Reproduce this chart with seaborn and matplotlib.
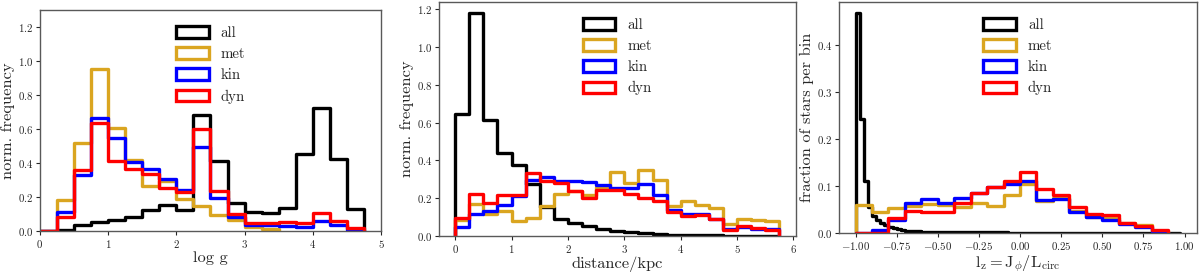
import numpy as np
import matplotlib
matplotlib.use("Agg")
import matplotlib.pyplot as plt
import seaborn as sns
from matplotlib.patches import Patch

# ---------------- data ----------------
series_names = ["all", "met", "kin", "dyn"]
series_colors = ["black", "goldenrod", "blue", "red"]

# Panel 1: log g  (bins of 0.25 starting at 0)
logg_edges_all = np.arange(0, 4.75 + 1e-9, 0.25)   # 19 bins, 0 -> 4.75
logg_edges_met = np.arange(0, 3.5 + 1e-9, 0.25)    # 14 bins, 0 -> 3.5
logg_all = [0.0, 0.006, 0.033, 0.055, 0.065, 0.082, 0.122, 0.153, 0.124, 0.683,
            0.414, 0.163, 0.114, 0.104, 0.134, 0.454, 0.723, 0.424, 0.128]
logg_met = [0.0, 0.183, 0.516, 0.954, 0.605, 0.42, 0.263, 0.292, 0.188, 0.147,
            0.094, 0.067, 0.026, 0.013]
logg_kin = [0.0, 0.114, 0.33, 0.664, 0.546, 0.403, 0.363, 0.304, 0.242, 0.497,
            0.196, 0.08, 0.033, 0.033, 0.028, 0.025, 0.06, 0.033, 0.005]
logg_dyn = [0.0, 0.084, 0.36, 0.634, 0.41, 0.362, 0.334, 0.251, 0.228, 0.601,
            0.238, 0.1, 0.045, 0.045, 0.053, 0.045, 0.105, 0.06, 0.015]

# Panel 2: distance/kpc (bins of 0.25 from 0 to 5.75)
dist_edges = np.arange(0, 5.75 + 1e-9, 0.25)
dist_all = [0.647, 1.179, 0.612, 0.44, 0.374, 0.275, 0.155, 0.09, 0.067, 0.05,
            0.035, 0.027, 0.02, 0.014, 0.01, 0.007, 0.005, 0.004, 0.003, 0.002,
            0.002, 0.001, 0.001]
dist_met = [0.083, 0.17, 0.117, 0.132, 0.078, 0.095, 0.157, 0.222, 0.236, 0.218,
            0.257, 0.338, 0.28, 0.351, 0.297, 0.161, 0.186, 0.165, 0.15, 0.063,
            0.09, 0.085, 0.079]
dist_kin = [0.045, 0.115, 0.13, 0.166, 0.21, 0.297, 0.31, 0.29, 0.29, 0.285,
            0.271, 0.254, 0.256, 0.274, 0.215, 0.135, 0.115, 0.115, 0.09, 0.037,
            0.046, 0.037, 0.035]
dist_dyn = [0.094, 0.222, 0.174, 0.215, 0.219, 0.333, 0.289, 0.28, 0.239, 0.2,
            0.245, 0.245, 0.22, 0.2, 0.186, 0.126, 0.106, 0.11, 0.09, 0.032,
            0.053, 0.044, 0.03]

# Panel 3: l_z = J_phi / L_circ
lz_edges_all = np.arange(-1.0, 0.975 + 1e-9, 0.025)   # 79 fine bins
lz_edges_sub = np.arange(-1.0, 0.9 + 1e-9, 0.1)       # 19 coarse bins
lz_all = [0.467, 0.243, 0.110, 0.055, 0.037, 0.029, 0.022, 0.017, 0.013, 0.010,
          0.008, 0.0065, 0.0055, 0.0048, 0.0042, 0.0037, 0.0033, 0.003, 0.0028, 0.0026,
          0.0025, 0.0024, 0.0023, 0.0022, 0.0021, 0.002, 0.002, 0.0019, 0.0018, 0.0018,
          0.0017, 0.0017, 0.0016, 0.0016, 0.0015, 0.0015, 0.0015, 0.0014, 0.0014, 0.0014,
          0.0014, 0.0013, 0.0013, 0.0013, 0.0012, 0.0012, 0.0012, 0.0011, 0.0011, 0.0011,
          0.001, 0.001, 0.001, 0.001, 0.0009, 0.0009, 0.0009, 0.0009, 0.0008, 0.0008,
          0.0008, 0.0008, 0.0007, 0.0007, 0.0007, 0.0007, 0.0006, 0.0006, 0.0006, 0.0006,
          0.0005, 0.0005, 0.0005, 0.0005, 0.0004, 0.0004, 0.0004, 0.0004, 0.0004]
lz_met = [0.06, 0.044, 0.054, 0.058, 0.062, 0.06, 0.055, 0.065, 0.058, 0.08,
          0.105, 0.068, 0.074, 0.047, 0.035, 0.033, 0.021, 0.018, 0.005]
lz_kin = [0.0, 0.006, 0.028, 0.065, 0.073, 0.065, 0.075, 0.085, 0.097, 0.105,
          0.11, 0.07, 0.072, 0.045, 0.035, 0.028, 0.02, 0.013, 0.003]
lz_dyn = [0.0, 0.0, 0.032, 0.048, 0.044, 0.044, 0.063, 0.085, 0.099, 0.11,
          0.13, 0.093, 0.08, 0.055, 0.04, 0.038, 0.022, 0.015, 0.007]

lz_ticks = [-1.0, -0.75, -0.5, -0.25, 0.0, 0.25, 0.5, 0.75, 1.0]

# ---------------- style ----------------
sns.set_style("ticks")
plt.rcParams["font.family"] = "serif"
plt.rcParams["font.serif"] = ["cmr10", "DejaVu Serif"]
plt.rcParams["mathtext.fontset"] = "cm"
plt.rcParams["axes.formatter.use_mathtext"] = True
plt.rcParams["axes.unicode_minus"] = True

LW = 2.4
TICK_FS = 7.8
LABEL_FS = 11.8
LEG_FS = 10.7


def step_hist(ax, edges, heights, color):
    edges = np.asarray(edges, float)
    heights = np.asarray(heights, float)
    eps = 1e-7 * (edges[-1] - edges[0])
    e = np.concatenate([[edges[0] - eps], edges, [edges[-1] + eps]])
    h = np.concatenate([[0.0], heights, [0.0]])
    centers = 0.5 * (e[:-1] + e[1:])
    sns.histplot(x=centers, weights=h, bins=e.tolist(), element="step", fill=False,
                 color=color, linewidth=LW, ax=ax)


def finish(ax, xlabel, ylabel):
    ax.set_xlabel(xlabel, fontsize=LABEL_FS, labelpad=1)
    ax.set_ylabel(ylabel, fontsize=LABEL_FS, labelpad=2)
    ax.tick_params(labelsize=TICK_FS, length=3, width=0.8, pad=2)
    for s in ax.spines.values():
        s.set_color("0.35")
        s.set_linewidth(1.0)
    handles = [Patch(facecolor="none", edgecolor=c, linewidth=LW) for c in series_colors]
    ax.legend(handles, series_names, loc="upper center", frameon=False,
              fontsize=LEG_FS, handlelength=2.2, handleheight=0.8,
              labelspacing=0.48, handletextpad=0.8, borderaxespad=0.7)


fig = plt.figure(figsize=(12, 2.75), dpi=100)

ax1 = fig.add_axes([0.0333, 0.160, 0.2842, 0.8036])
ax2 = fig.add_axes([0.3658, 0.142, 0.2972, 0.851])
ax3 = fig.add_axes([0.6994, 0.152, 0.2978, 0.841])

# Panel 1
step_hist(ax1, logg_edges_all, logg_all, "black")
step_hist(ax1, logg_edges_met, logg_met, "goldenrod")
step_hist(ax1, logg_edges_all, logg_kin, "blue")
step_hist(ax1, logg_edges_all, logg_dyn, "red")
ax1.set_xlim(0, 5)
ax1.set_ylim(0, 1.3)
ax1.set_yticks(np.arange(0, 1.21, 0.2))
finish(ax1, "log g", "norm. frequency")

# Panel 2
step_hist(ax2, dist_edges, dist_all, "black")
step_hist(ax2, dist_edges, dist_met, "goldenrod")
step_hist(ax2, dist_edges, dist_kin, "blue")
step_hist(ax2, dist_edges, dist_dyn, "red")
ax2.set_ylim(bottom=0)
ax2.set_yticks(np.arange(0, 1.21, 0.2))
finish(ax2, "distance/kpc", "norm. frequency")

# Panel 3
step_hist(ax3, lz_edges_all, lz_all, "black")
step_hist(ax3, lz_edges_sub, lz_met, "goldenrod")
step_hist(ax3, lz_edges_sub, lz_kin, "blue")
step_hist(ax3, lz_edges_sub, lz_dyn, "red")
ax3.set_ylim(bottom=0)
ax3.set_xticks(lz_ticks)
ax3.set_yticks([0.0, 0.1, 0.2, 0.3, 0.4])
finish(ax3, r"$\mathrm{l_z = J_\phi/L_{circ}}$", "fraction of stars per bin")

fig.savefig("out.png", dpi=100)
